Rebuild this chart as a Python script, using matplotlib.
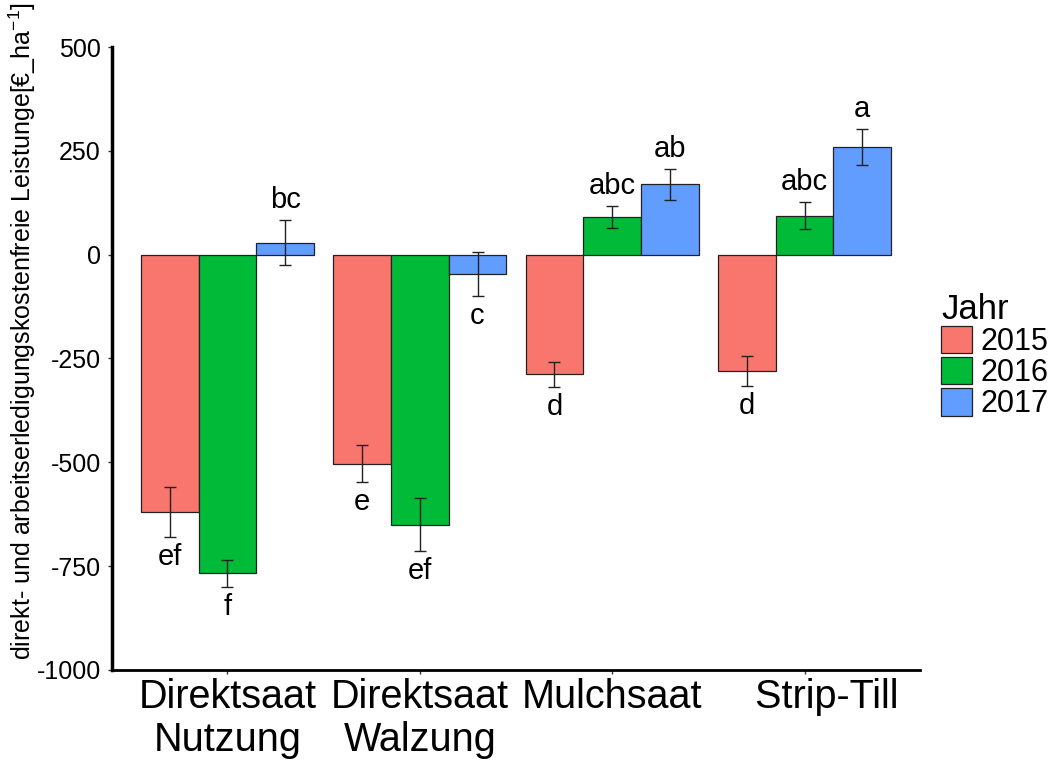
import numpy as np
import matplotlib
matplotlib.use("Agg")
import matplotlib.pyplot as plt

plt.rcParams['font.family'] = ['Liberation Sans', 'DejaVu Sans']
plt.rcParams['mathtext.fontset'] = 'custom'
plt.rcParams['mathtext.rm'] = 'Liberation Sans'
plt.rcParams['axes.unicode_minus'] = False

# Data
verfahren = ['Direktsaat\nNutzung', 'Direktsaat\nWalzung', 'Mulchsaat', '    Strip-Till']
jahre = ['2015', '2016', '2017']
mean_2015 = [-619, -503, -288, -280]
mean_2016 = [-767, -650, 90, 94]
mean_2017 = [29, -47, 169, 260]
se_2015 = [60, 45, 30, 37]
se_2016 = [33, 64, 26, 32]
se_2017 = [54, 53, 38, 43]
letters_2015 = ['ef', 'e', 'd', 'd']
letters_2016 = ['f', 'ef', 'abc', 'abc']
letters_2017 = ['bc', 'c', 'ab', 'a']
colors = ['#F8766D', '#00BA38', '#619CFF']

means = [mean_2015, mean_2016, mean_2017]
ses = [se_2015, se_2016, se_2017]
letters = [letters_2015, letters_2016, letters_2017]

fig = plt.figure(figsize=(10.52, 7.63), dpi=100)
ax = fig.add_axes([0.1065, 0.1219, 0.768, 0.8165])

x = np.arange(1, len(verfahren) + 1)
width = 0.3
for i, jahr in enumerate(jahre):
    xpos = x + (i - 1) * width
    ax.bar(xpos, means[i], width=width, color=colors[i], edgecolor='#222222',
           linewidth=0.9, label=jahr, zorder=2)
    ax.errorbar(xpos, means[i], yerr=ses[i], fmt='none', ecolor='#222222',
                elinewidth=1, capsize=4.5, capthick=1, zorder=3)
    for xp, m, s, lab in zip(xpos, means[i], ses[i], letters[i]):
        if m >= 0:
            ax.annotate(lab, (xp, m + s), xytext=(0, 14.5), textcoords='offset points',
                        ha='center', va='center', fontsize=21)
        else:
            ax.annotate(lab, (xp, m - s), xytext=(0, -14.5), textcoords='offset points',
                        ha='center', va='center', fontsize=21)

ax.set_xlim(0.4, 4.6)
ax.set_ylim(-1000, 500)
ax.set_yticks([500, 250, 0, -250, -500, -750, -1000])
ax.set_xticks(x)
ax.set_xticklabels(verfahren, fontsize=28.5, linespacing=1.15)
ax.tick_params(axis='y', labelsize=18, length=3, width=1, color='#333333', pad=5)
ax.tick_params(axis='x', length=3, width=1, color='#333333', pad=3)
for side in ['top', 'right']:
    ax.spines[side].set_visible(False)
ax.spines['left'].set_linewidth(2.5)
ax.spines['bottom'].set_linewidth(2)

fig.text(0.021, 1 - 660 / 763,
         'direkt- und arbeitserledigungskostenfreie Leistunge[€_ha$^{\\mathregular{-1}}$]',
         rotation=90, ha='center', va='bottom', fontsize=18)

leg = ax.legend(title='Jahr', loc='upper left', bbox_to_anchor=(941 / 1052, 1 - 293 / 763),
                bbox_transform=fig.transFigure, frameon=False, fontsize=22,
                title_fontsize=25, handlelength=1.0, handleheight=1.0,
                labelspacing=0.0, handletextpad=0.3, borderpad=0, borderaxespad=0)
leg._legend_box.align = 'left'

fig.savefig('out.png', dpi=100)
